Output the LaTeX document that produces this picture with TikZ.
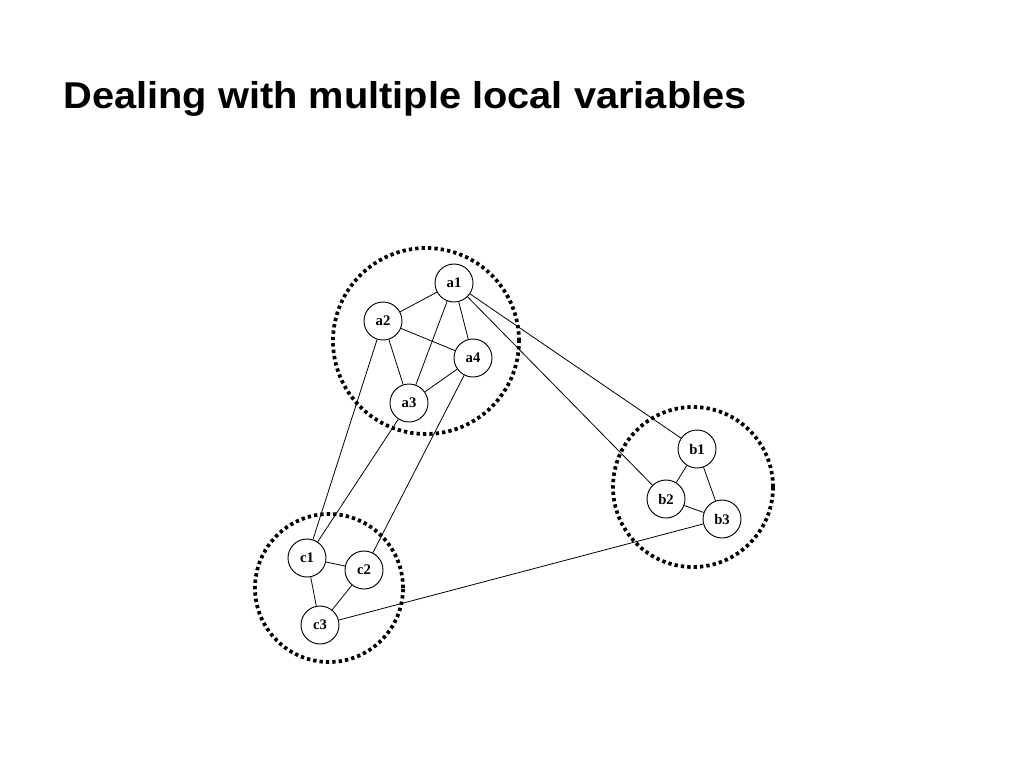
\documentclass[tikz,border=0pt]{standalone}
\usepackage{fontspec}
\setmainfont{Liberation Serif}
\newfontfamily\titlefont{Liberation Sans}
\usetikzlibrary{positioning}

\tikzset{
  var/.style={circle, draw, line width=0.7pt, minimum size=28.5pt, inner sep=0pt, font=\bfseries\fontsize{11}{13}\selectfont},
  group/.style={circle, draw, line width=2.8pt, dash pattern=on 2.5pt off 2.3pt, inner sep=0pt},
  link/.style={line width=0.6pt}
}

\begin{document}
\begin{tikzpicture}[x=0.75pt, y=-0.75pt]
  \useasboundingbox (0,0) rectangle (1024,768);
  \node (title) [anchor=base west, inner sep=0pt, xscale=1.066, font=\titlefont\bfseries\fontsize{28}{32}\selectfont] at (63,108) {Dealing with multiple local variables};

  % clusters
  \node (ga) [group, minimum size=139.5pt] at (426,341) {};
  \node (gb) [group, minimum size=120pt] at (693,487) {};
  \node (gc) [group, minimum size=111pt] at (329,588) {};

  % variables
  \node (a1) [var] at (454,283) {a1};
  \node (a2) [var] at (383,321) {a2};
  \node (a4) [var] at (473,358) {a4};
  \node (a3) [var] at (409,403) {a3};
  \node (b1) [var] at (697,449) {b1};
  \node (b2) [var] at (666,499) {b2};
  \node (b3) [var] at (722,519) {b3};
  \node (c1) [var] at (307,558) {c1};
  \node (c2) [var] at (364,570) {c2};
  \node (c3) [var] at (320,625) {c3};

  % edges
  \foreach \u/\v in {a1/a2, a1/a3, a1/a4, a2/a4, a2/a3, a3/a4, a1/b1, a1/b2, a2/c1, a3/c1, a4/c2,
                     c1/c2, c1/c3, c2/c3, b1/b2, b1/b3, b2/b3, b3/c3}
    \draw[link] (\u) -- (\v);
\end{tikzpicture}
\end{document}
